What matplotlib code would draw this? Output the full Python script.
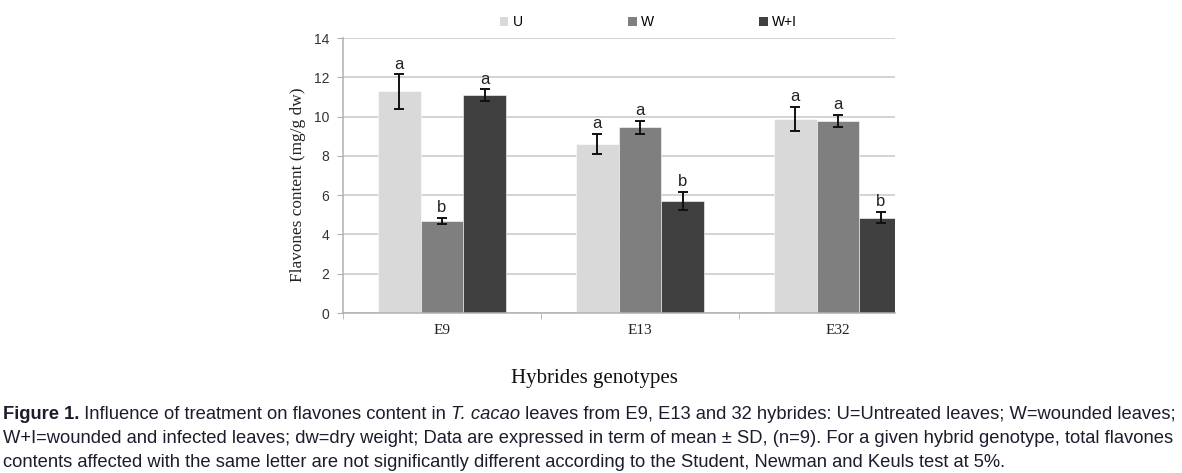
import numpy as np
import matplotlib.pyplot as plt
from matplotlib.patches import Patch
from matplotlib.text import Annotation

# data
genotypes = ["E9", "E13", "E32"]
treatments = ["U", "W", "W+I"]
means = {
    "U": [11.28, 8.60, 9.88],
    "W": [4.68, 9.45, 9.76],
    "W+I": [11.08, 5.71, 4.86],
}
sds = {
    "U": [0.87, 0.50, 0.60],
    "W": [0.15, 0.33, 0.31],
    "W+I": [0.30, 0.47, 0.28],
}
letters = {
    "U": ["a", "a", "a"],
    "W": ["b", "a", "a"],
    "W+I": ["a", "b", "b"],
}
colors = {"U": "#d9d9d9", "W": "#7f7f7f", "W+I": "#404040"}

serif = "Liberation Serif"
sans = "Liberation Sans"

fig = plt.figure(figsize=(11.82, 4.73), dpi=100)
ax = fig.add_axes([343 / 1182, 1 - 313 / 473, (895 - 343) / 1182, 275 / 473])

x = np.arange(len(genotypes))
w = 0.217
for i, t in enumerate(treatments):
    xp = x + (i - 1) * w
    ax.bar(xp, means[t], width=w, color=colors[t], edgecolor="white", linewidth=0.4, zorder=2)
    ax.errorbar(xp, means[t], yerr=sds[t], fmt="none", ecolor="#111111",
                elinewidth=1.4, capsize=3.5, capthick=1.4, zorder=3)
    for xi, m, s, l in zip(xp, means[t], sds[t], letters[t]):
        ax.annotate(l, (xi, m + s), xytext=(0, 2), textcoords="offset points",
                    ha="center", va="bottom", fontsize=12, family=sans, color="#222222")

ax.set_xlim(-0.5, (895 - 343) / 198 - 0.5)
ax.set_ylim(0, 14)
ax.set_yticks(range(0, 15, 2))
ax.yaxis.grid(True, color="#c8c8c8", linewidth=1.1, zorder=0)
ax.set_axisbelow(True)

ax.set_xticks(x)
ax.set_xticklabels(genotypes, family=serif, fontsize=11, color="#222222")
ax.set_xticks([-0.5, 0.5, 1.5], minor=True)
ax.tick_params(axis="x", which="major", length=0, pad=8)
ax.tick_params(axis="x", which="minor", length=4, color="#b0b0b0", direction="out")
ax.tick_params(axis="y", length=4, color="#b0b0b0", labelsize=10, labelcolor="#333333", pad=6)
for lab in ax.get_yticklabels():
    lab.set_family(sans)

for side in ["top", "right"]:
    ax.spines[side].set_visible(False)
for side in ["left", "bottom"]:
    ax.spines[side].set_color("#b0b0b0")
    ax.spines[side].set_linewidth(1.1)

ax.set_ylabel("Flavones content (mg/g dw)", family=serif, fontsize=12.4, color="#222222")
ax.yaxis.set_label_coords((306 - 343) / 552, (313 - 185) / 275)

fig.text(594 / 1182, 1 - 378 / 473, "Hybrides genotypes", family=serif, fontsize=15,
         ha="center", va="center", color="#111111")

handles = [Patch(facecolor=colors[t], edgecolor="none") for t in treatments]
fig.legend(handles, treatments, loc="center left", bbox_to_anchor=(500 / 1182, 1 - 22 / 473),
           ncol=3, frameon=False, borderpad=0, borderaxespad=0, handlelength=0.6,
           handleheight=0.6, handletextpad=0.3, columnspacing=7.6,
           prop={"family": sans, "size": 10})

# caption, built piece by piece so the bold and italic parts follow on
cap_color = "#1c1c2c"
cap_size = 13.2
lines = [
    [("Figure 1.", "bold", "normal"),
     (" Influence of treatment on flavones content in ", "normal", "normal"),
     ("T. cacao", "normal", "italic"),
     (" leaves from E9, E13 and 32 hybrides: U=Untreated leaves; W=wounded leaves;", "normal", "normal")],
    [("W+I=wounded and infected leaves; dw=dry weight; Data are expressed in term of mean \u00b1 SD, (n=9). "
      "For a given hybrid genotype, total flavones", "normal", "normal")],
    [("contents affected with the same letter are not significantly different according to the Student, "
      "Newman and Keuls test at 5%.", "normal", "normal")],
]
line_y = [423, 447, 471]
for parts, ly in zip(lines, line_y):
    prev = None
    for txt, wt, st in parts:
        if prev is None:
            prev = fig.text(3 / 1182, 1 - ly / 473, txt, fontsize=cap_size, family=sans,
                            weight=wt, style=st, color=cap_color, va="bottom")
        else:
            a = Annotation(txt, xy=(1, 0), xycoords=prev, xytext=(0, 0),
                           textcoords="offset points", va="bottom", ha="left",
                           fontsize=cap_size, family=sans, weight=wt, style=st, color=cap_color)
            fig.add_artist(a)
            prev = a

fig.savefig("out.png", dpi=100)
